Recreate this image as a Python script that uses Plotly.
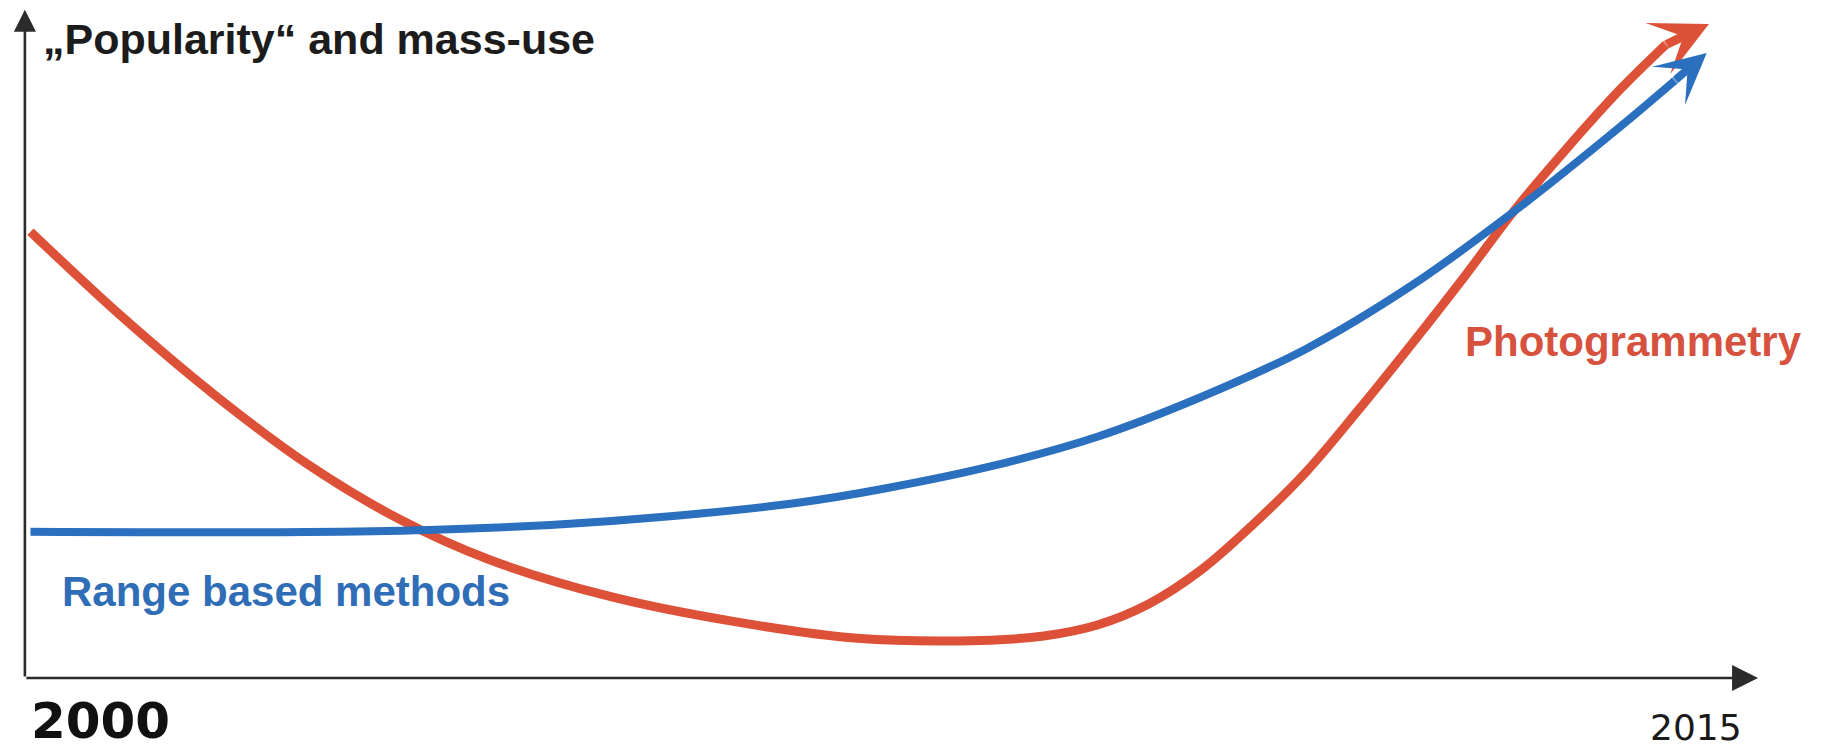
import plotly.graph_objects as go

# ---- data (years vs. relative popularity) ----
photo_year = [2000.04, 2000.86, 2001.69, 2002.51, 2003.33, 2004.16, 2005.25, 2006.35,
              2007.45, 2008.55, 2009.12, 2009.60, 2010.06, 2010.53, 2011.00, 2011.47,
              2011.94, 2012.41, 2012.88, 2013.34, 2013.81, 2014.28, 2014.69, 2015.08]
photo_val = [68.66, 55.58, 43.54, 33.03, 24.57, 18.15, 12.46, 8.66,
             6.11, 5.77, 6.46, 8.15, 11.38, 16.62, 23.69, 31.69,
             41.23, 51.23, 61.54, 72.00, 81.54, 90.46, 97.38, 100.6]

range_year = [2000.04, 2002.51, 2003.61, 2004.70, 2005.80, 2006.90, 2007.72, 2008.66,
              2009.60, 2010.53, 2011.47, 2012.41, 2013.34, 2014.26, 2014.77, 2015.06]
range_val = [22.51, 22.46, 22.77, 23.54, 24.92, 26.92, 29.23, 32.62,
             37.12, 43.23, 50.62, 60.31, 71.85, 84.46, 91.85, 96.15]

series_names = ["Photogrammetry", "Range based methods"]
axis_title = "„Popularity“ and mass-use"
start_label = "2000"
end_label = "2015"

RED = "#DD5138"
BLUE = "#2B6FBF"
RED_TXT = "#D6523F"
BLUE_TXT = "#2F6DB6"
AXIS = "#2b2b2b"

# axis ranges chosen so that the plot spans the full canvas
X0, X1 = 1999.767, 2016.12
Y0, Y1 = -11.08, 104.3

fig = go.Figure()


def curve(xs, ys, color, width, name):
    n = len(xs) - 1  # last point is the arrow tip (drawn by an annotation)
    sizes = [0] * (n - 1) + [width]
    fig.add_trace(go.Scatter(x=xs[:n], y=ys[:n], mode="lines+markers",
                             line=dict(color=color, width=width, shape="spline", smoothing=1.0),
                             marker=dict(size=sizes, color=color, line=dict(width=0)),
                             name=name, hoverinfo="skip"))


curve(photo_year, photo_val, RED, 9, series_names[0])
curve(range_year, range_val, BLUE, 8, series_names[1])

annotations = []

# axis arrows
annotations.append(dict(x=2015.52, y=0, ax=2000 - 0.01, ay=0,
                        xref="x", yref="y", axref="x", ayref="y",
                        text="", showarrow=True, arrowhead=2, arrowsize=2.0,
                        arrowwidth=2.6, arrowcolor=AXIS))
annotations.append(dict(x=2000 - 0.01, y=102.8, ax=2000 - 0.01, ay=0,
                        xref="x", yref="y", axref="x", ayref="y",
                        text="", showarrow=True, arrowhead=2, arrowsize=1.7,
                        arrowwidth=2.6, arrowcolor=AXIS))

# curve arrowheads
annotations.append(dict(x=photo_year[-1], y=photo_val[-1], ax=photo_year[-2], ay=photo_val[-2],
                        xref="x", yref="y", axref="x", ayref="y",
                        text="", showarrow=True, arrowhead=3, arrowsize=1.05,
                        arrowwidth=9, arrowcolor=RED))
annotations.append(dict(x=range_year[-1], y=range_val[-1], ax=range_year[-2], ay=range_val[-2],
                        xref="x", yref="y", axref="x", ayref="y",
                        text="", showarrow=True, arrowhead=3, arrowsize=1.05,
                        arrowwidth=8, arrowcolor=BLUE))


def px_to_paper_x(px):
    return px / 1825.0


def px_to_paper_y(py):
    return 1 - py / 750.0


# texts
annotations.append(dict(x=px_to_paper_x(41), y=px_to_paper_y(39), xref="paper", yref="paper",
                        xanchor="left", yanchor="middle", showarrow=False, text=f"<b>{axis_title}</b>",
                        font=dict(family="Liberation Sans, Arial", size=43, color="#1c1c1c")))
annotations.append(dict(x=px_to_paper_x(1463), y=px_to_paper_y(341), xref="paper", yref="paper",
                        xanchor="left", yanchor="middle", showarrow=False, text=f"<b>{series_names[0]}</b>",
                        font=dict(family="Liberation Sans, Arial", size=42, color=RED_TXT)))
annotations.append(dict(x=px_to_paper_x(60), y=px_to_paper_y(591), xref="paper", yref="paper",
                        xanchor="left", yanchor="middle", showarrow=False, text=f"<b>{series_names[1]}</b>",
                        font=dict(family="Liberation Sans, Arial", size=42, color=BLUE_TXT)))
annotations.append(dict(x=px_to_paper_x(100), y=px_to_paper_y(721), xref="paper", yref="paper",
                        xanchor="center", yanchor="middle", showarrow=False, text=f"<b>{start_label}</b>",
                        font=dict(family="DejaVu Sans", size=50, color="#111111")))
annotations.append(dict(x=px_to_paper_x(1696), y=0, xref="paper", yref="paper",
                        xanchor="center", yanchor="bottom", showarrow=False, text=end_label,
                        font=dict(family="DejaVu Sans", size=36, color="#1a1a1a")))

fig.update_layout(
    width=1825, height=750,
    margin=dict(l=0, r=0, t=0, b=0),
    paper_bgcolor="white", plot_bgcolor="white",
    showlegend=False,
    xaxis=dict(range=[X0, X1], visible=False, fixedrange=True),
    yaxis=dict(range=[Y0, Y1], visible=False, fixedrange=True),
    annotations=annotations,
)

fig.write_html("out.html")
